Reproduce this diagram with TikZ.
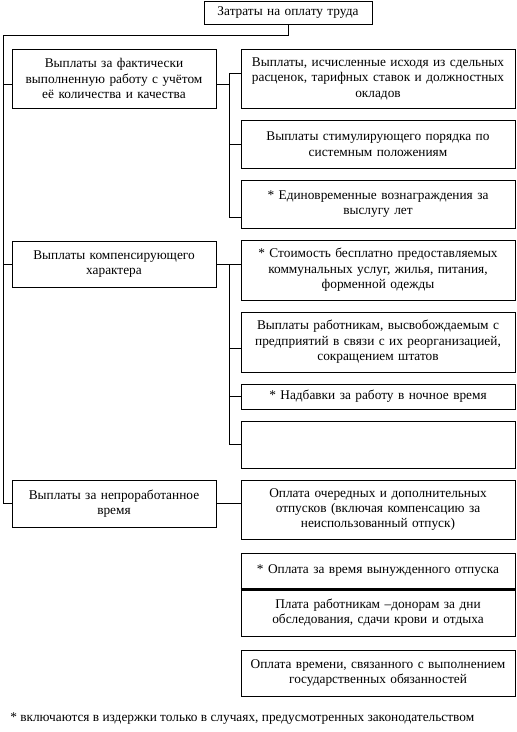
\documentclass[tikz,border=0pt]{standalone}
\usepackage{fontspec}
\setmainfont{Liberation Serif}
\usetikzlibrary{calc}
\begin{document}
\begin{tikzpicture}[x=0.75pt,y=-0.75pt,
 box/.style={draw,line width=0.75pt,inner sep=1pt,align=center,font=\fontsize{10}{11.6}\selectfont},
 lbox/.style={box,minimum width=153pt,text width=148pt},
 rbox/.style={box,minimum width=205.5pt,text width=200pt},
 conn/.style={line width=0.75pt}]
\useasboundingbox (0,0) rectangle (517,732);
\node[box,minimum width=126pt,minimum height=17.25pt,text width=120pt] (top) at (288,12.5) {Затраты на оплату труда};
\node[lbox,minimum height=44.25pt] (l1) at (114,78.5) {Выплаты за фактически\\ выполненную работу с учётом\\ её количества и качества};
\node[lbox,minimum height=34.5pt] (l2) at (114,264) {Выплаты компенсирующего\\ характера};
\node[lbox,minimum height=35.25pt] (l3) at (114,503.5) {Выплаты за непроработанное\\ время};
\node[rbox,minimum height=44.25pt] (r1) at (378,78.5) {Выплаты, исчисленные исходя из сдельных\\ расценок, тарифных ставок и должностных\\ окладов};
\node[rbox,minimum height=36pt] (r2) at (378,144) {Выплаты стимулирующего порядка по\\ системным положениям};
\node[rbox,minimum height=36pt] (r3) at (378,204) {* Единовременные вознаграждения за\\ выслугу лет};
\node[rbox,minimum height=45pt] (r4) at (378,270) {* Стоимость бесплатно предоставляемых\\ коммунальных услуг, жилья, питания,\\ форменной одежды};
\node[rbox,minimum height=45pt] (r5) at (378,342) {Выплаты работникам, высвобождаемым с\\ предприятий в связи с их реорганизацией,\\ сокращением штатов};
\node[rbox,minimum height=18.75pt] (r6) at (378,396.5) {* Надбавки за работу в ночное время};
\node[rbox,minimum height=35.25pt] (r7) at (378,444.5) {};
\node[rbox,minimum height=44.25pt] (r8) at (378,509.5) {Оплата очередных и дополнительных\\ отпусков (включая компенсацию за\\ неиспользованный отпуск)};
\node[rbox,minimum height=27pt] (r9) at (378,571) {* Оплата за время вынужденного отпуска};
\node[rbox,minimum height=35.25pt] (r10) at (378,612.5) {Плата работникам –донорам за дни\\ обследования, сдачи крови и отдыха};
\node[rbox,minimum height=34.5pt] (r11) at (378,673) {Оплата времени, связанного с выполнением\\ государственных обязанностей};
\node[anchor=west,inner sep=0pt,font=\fontsize{10}{11.6}\selectfont] (fn) at (10,719) {* включаются в издержки только в случаях, предусмотренных законодательством};
\draw[line width=2pt] (r9.south west) -- (r9.south east);
% left trunk
\coordinate (L) at (3,35.5);
\coordinate (y1) at (0,84.5);
\draw[conn] (top.south) |- (L) |- (l3.west);
\draw[conn] (L |- y1) -- (l1.west |- y1);
\draw[conn] (L |- l2.west) -- (l2.west);
% bus 1
\coordinate (B1) at (229,73);
\coordinate (y3) at (0,217);
\draw[conn] (l1.east |- y1) -- (B1 |- y1);
\draw[conn] (r1.west |- B1) -- (B1) |- (r3.west |- y3);
\draw[conn] (B1 |- r2.west) -- (r2.west);
% bus 2
\coordinate (B2) at (229,264);
\coordinate (y5) at (0,348);
\draw[conn] (l2.east) -- (r4.west |- l2.east);
\draw[conn] (B2) |- (r7.west);
\draw[conn] (B2 |- y5) -- (r5.west |- y5);
\draw[conn] (B2 |- r6.west) -- (r6.west);
% bus 3
\draw[conn] (l3.east) -- (r8.west |- l3.east);
\end{tikzpicture}
\end{document}
